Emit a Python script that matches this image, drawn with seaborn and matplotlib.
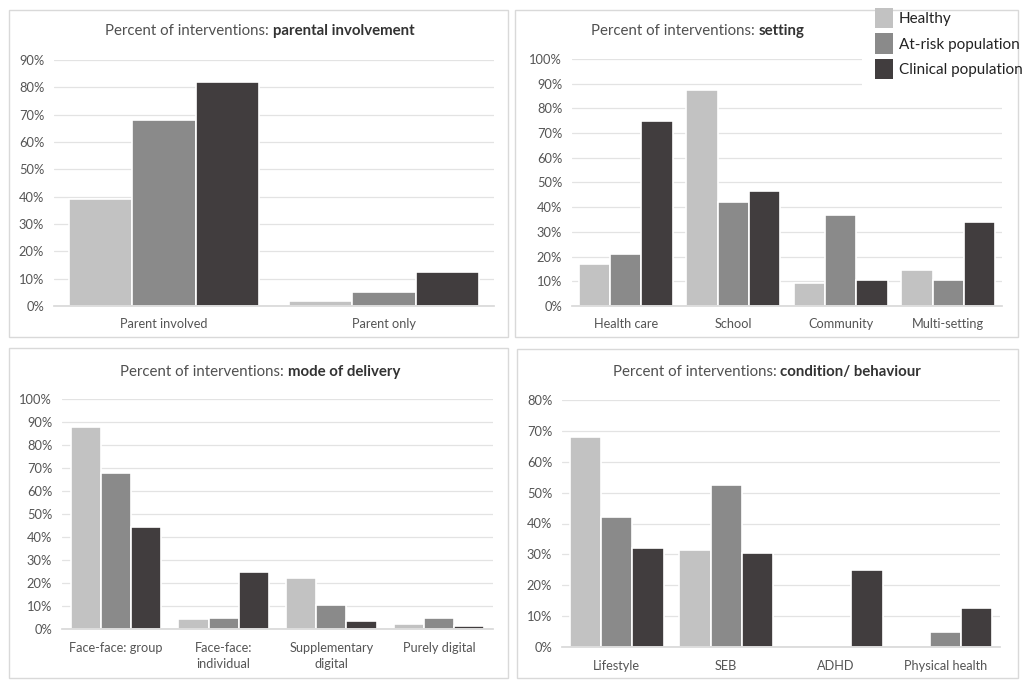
import matplotlib
matplotlib.use("Agg")
import matplotlib.pyplot as plt
import seaborn as sns
import pandas as pd
from matplotlib.patches import Rectangle
from matplotlib.ticker import PercentFormatter

groups = ["Healthy", "At-risk population", "Clinical population"]
colors = ["#c2c2c2", "#8a8a8a", "#413d3e"]

cat_parent = ["Parent involved", "Parent only"]
parent_healthy = [39, 2]
parent_atrisk = [68, 5]
parent_clinical = [82, 12.5]

cat_setting = ["Health care", "School", "Community", "Multi-setting"]
setting_healthy = [17, 87.5, 9.5, 14.5]
setting_atrisk = [21, 42, 37, 10.5]
setting_clinical = [75, 46.5, 10.5, 34]

cat_mode = ["Face-face: group", "Face-face:\nindividual", "Supplementary\ndigital", "Purely digital"]
mode_healthy = [88, 4.5, 22, 2]
mode_atrisk = [68, 5, 10.5, 5]
mode_clinical = [44.5, 25, 3.5, 1.5]

cat_cond = ["Lifestyle", "SEB", "ADHD", "Physical health"]
cond_healthy = [68, 31.5, 0, 0]
cond_atrisk = [42, 52.5, 0, 5]
cond_clinical = [32, 30.5, 25, 12.5]

titles = [("Percent of interventions: ", "parental involvement"),
          ("Percent of interventions: ", "setting"),
          ("Percent of interventions: ", "mode of delivery"),
          ("Percent of interventions: ", "condition/ behaviour")]

def long_df(cats, h, a, c):
    rows = []
    for vals, g in zip([h, a, c], groups):
        for cat, v in zip(cats, vals):
            rows.append({"cat": cat, "group": g, "val": v})
    return pd.DataFrame(rows)

sns.set_theme(style="white")
plt.rcParams["font.family"] = ["Lato", "DejaVu Sans"]

W, H = 1022, 680
fig = plt.figure(figsize=(W / 100, H / 100), dpi=100)

def fx(x):
    return x / W

def fy(y):
    return 1 - y / H

# panel boxes (pixel coords: x0, y0, x1, y1)
boxes = [(9, 10, 508, 337), (515, 10, 1018, 337), (9, 348, 508, 678), (517, 349, 1018, 678)]
for x0, y0, x1, y1 in boxes:
    fig.patches.append(Rectangle((fx(x0), fy(y1)), fx(x1 - x0), (y1 - y0) / H,
                                 transform=fig.transFigure, fill=False,
                                 edgecolor="#d9d9d9", linewidth=1.0, zorder=0))

# axes regions: (left, top, right, bottom) in pixels
regions = [(54, 60, 494, 306), (572, 59, 1002, 306), (62, 399, 493, 629), (562, 400, 1000, 647)]
ymaxes = [90, 100, 100, 80]
widths = [0.86, 0.87, 0.84, 0.86]
data = [long_df(cat_parent, parent_healthy, parent_atrisk, parent_clinical),
        long_df(cat_setting, setting_healthy, setting_atrisk, setting_clinical),
        long_df(cat_mode, mode_healthy, mode_atrisk, mode_clinical),
        long_df(cat_cond, cond_healthy, cond_atrisk, cond_clinical)]
title_pos = [(260, 31), (698, 31), (260, 372), (767, 372)]

axes = []
for i, (reg, df) in enumerate(zip(regions, data)):
    l, t, r, b = reg
    ax = fig.add_axes([fx(l), fy(b), fx(r - l), (b - t) / H])
    sns.barplot(data=df, x="cat", y="val", hue="group", palette=colors,
                hue_order=groups, ax=ax, width=widths[i], edgecolor="white",
                linewidth=1.2, legend=False, saturation=1)
    ax.set_ylim(0, ymaxes[i])
    ax.set_yticks(range(0, ymaxes[i] + 1, 10))
    ax.yaxis.set_major_formatter(PercentFormatter(decimals=0))
    ax.grid(axis="y", color="#e3e3e3", linewidth=0.9)
    ax.set_axisbelow(True)
    for s in ["top", "right", "left"]:
        ax.spines[s].set_visible(False)
    ax.spines["bottom"].set_color("#d9d9d9")
    ax.set_xlabel("")
    ax.set_ylabel("")
    ax.tick_params(axis="y", length=0, labelsize=9.3, labelcolor="#555555", pad=7)
    ax.tick_params(axis="x", length=0, labelsize=9.2, labelcolor="#555555", pad=9)
    for lab in ax.get_xticklabels():
        lab.set_linespacing(1.45)
    axes.append(ax)

# titles with mixed weights
renderer = fig.canvas.get_renderer()
for (normal, bold), (cx, cy) in zip(titles, title_pos):
    t1 = fig.text(0, fy(cy), normal, fontsize=10.8, color="#505050", va="center", ha="left")
    t2 = fig.text(0, fy(cy), bold, fontsize=10.8, color="#333333", va="center", ha="left",
                  fontweight="bold")
    w1 = t1.get_window_extent(renderer).width
    w2 = t2.get_window_extent(renderer).width
    start = cx - (w1 + w2) / 2
    t1.set_x(fx(start))
    t2.set_x(fx(start + w1))

# legend area (white block covering panel corner)
leg_ax = fig.add_axes([fx(862), fy(95), fx(160), 95 / H])
leg_ax.set_axis_off()
leg_ax.add_patch(Rectangle((0, 0), 1, 1, transform=leg_ax.transAxes, color="white", zorder=0))
handles = [Rectangle((0, 0), 1, 1, facecolor=c, edgecolor="none") for c in colors]
leg = fig.legend(handles, groups, loc="upper left", bbox_to_anchor=(fx(875), fy(8)),
                 bbox_transform=fig.transFigure, frameon=False, fontsize=11,
                 handlelength=1.2, handleheight=1.65, handletextpad=0.35,
                 labelspacing=0.35, borderaxespad=0, borderpad=0)
for txt in leg.get_texts():
    txt.set_color("#222222")

fig.savefig("out.png", dpi=100, facecolor="white")
